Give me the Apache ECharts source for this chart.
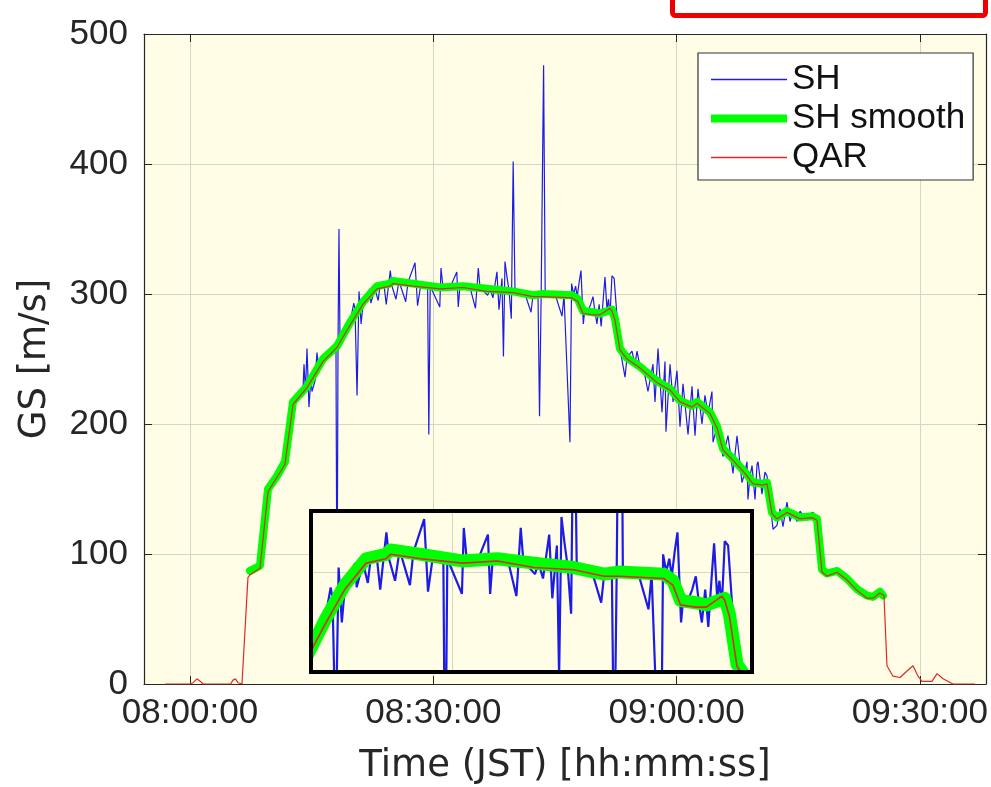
<!DOCTYPE html>
<html>
<head>
<meta charset="utf-8">
<title>GS</title>
<script src="https://cdn.jsdelivr.net/npm/echarts@6/dist/echarts.min.js"></script>
<style>
  html, body { margin: 0; padding: 0; background: #fff; }
  #chart { width: 991px; height: 787px; }
</style>
</head>
<body>
<div id="chart"></div>
<script>
// time = minutes after 08:00:00 JST, GS in m/s
const tickMinutes = [0, 30, 60, 90];
const insetTickMinutes = [30];
const insetTickGs = [300];

// SH (raw, with spikes)
const shTime = [
  7.40, 8.63, 9.12, 9.62, 10.73, 11.71, 12.70, 13.56, 13.93, 14.06,
  14.24, 14.43, 14.67, 14.92, 15.04, 15.41, 15.66, 15.91, 16.40, 17.26,
  18.00, 18.13, 18.25, 18.37, 18.50, 19.11, 19.73, 20.20, 20.35, 20.60,
  20.84, 21.10, 21.33, 21.58, 22.19, 22.30, 22.81, 23.20, 23.43, 23.92,
  24.20, 24.45, 24.70, 24.91, 25.40, 25.77, 26.60, 26.88, 27.75, 28.06,
  28.48, 29.30, 29.45, 29.62, 30.80, 30.95, 31.20, 32.06, 32.90, 33.08,
  33.29, 34.53, 35.20, 35.55, 35.76, 36.70, 36.99, 37.35, 37.85, 38.10,
  38.47, 38.65, 38.84, 39.09, 39.33, 39.62, 39.85, 40.07, 41.31, 42.05,
  42.29, 42.91, 43.10, 43.30, 43.60, 43.80, 45.01, 45.87, 46.12, 46.85,
  47.05, 47.30, 47.55, 47.75, 47.98, 48.21, 48.50, 48.71, 49.06, 49.40,
  49.69, 49.94, 50.18, 50.45, 50.70, 50.95, 51.17, 51.42, 51.60, 51.79,
  52.03, 52.30, 52.60, 53.02, 53.64, 53.88, 54.50, 54.87, 55.12, 55.49,
  56.10, 56.47, 57.09, 57.34, 57.71, 58.20, 58.57, 58.69, 59.19, 59.56,
  60.05, 60.42, 60.79, 61.41, 61.90, 62.27, 62.64, 63.13, 63.50, 63.87,
  64.36, 64.49, 64.99, 65.72, 66.34, 66.95, 67.45, 68.06, 68.43, 68.68,
  68.80, 69.05, 69.30, 69.67, 69.92, 70.04, 70.53, 70.90, 71.15, 71.52,
  71.89, 72.38, 72.75, 73.12, 73.61, 73.98, 74.35, 74.85, 75.22, 75.83,
  76.20, 76.82, 77.31, 77.93, 78.55, 79.78, 81.01, 82.24, 83.48, 84.22,
  85.08, 85.45
];
const shGs = [
  87, 91, 120, 150, 160, 171, 217, 224, 226, 246,
  225, 258, 213, 236, 225, 233, 255, 240, 250, 256,
  259, 40, 258, 350, 262, 270, 278, 293, 288, 222,
  302, 277, 292, 298, 304, 293, 304, 295, 306, 307,
  292, 305, 318, 306, 296, 310, 294, 309, 324, 291,
  308, 306, 192, 306, 290, 320, 305, 305, 317, 290,
  306, 305, 289, 320, 305, 299, 304, 297, 317, 288,
  312, 252, 325, 313, 303, 281, 402, 304, 300, 286,
  299, 300, 206, 300, 476, 300, 300, 283, 299, 186,
  308, 300, 306, 298, 309, 318, 277, 290, 287, 292,
  298, 286, 277, 292, 275, 296, 313, 288, 296, 284,
  314, 312, 287, 258, 236, 251, 256, 246, 256, 244,
  237, 225, 246, 217, 258, 209, 248, 194, 246, 217,
  241, 198, 231, 192, 229, 191, 227, 200, 222, 208,
  225, 186, 198, 175, 191, 162, 191, 155, 163, 171,
  142, 160, 168, 142, 169, 171, 146, 163, 160, 140,
  119, 122, 135, 121, 140, 125, 133, 125, 133, 127,
  130, 132, 127, 88, 85, 87, 81, 73, 68, 67,
  73, 68
];

// SH smooth
const smoothTime = [
  7.40, 8.63, 9.62, 10.73, 11.71, 12.70, 14.43, 16.40, 18.13, 19.73,
  21.33, 23.06, 24.66, 25.03, 27.50, 30.83, 33.66, 36.62, 39.83, 42.29,
  43.53, 47.10, 47.84, 48.46, 49.69, 50.55, 52.03, 52.40, 53.02, 53.88,
  55.49, 57.58, 59.19, 60.42, 61.90, 62.52, 64.12, 64.99, 65.72, 66.95,
  68.43, 69.42, 70.65, 71.15, 71.76, 72.38, 73.61, 75.22, 76.70, 77.31,
  77.93, 78.55, 79.78, 81.01, 82.24, 83.48, 84.22, 85.08, 85.45
];
const smoothGs = [
  87, 91, 150, 160, 171, 217, 229, 250, 260, 278,
  294, 306, 308, 310, 308, 305, 306, 304, 302, 299,
  300, 299, 296, 287, 286, 285, 288, 281, 258, 251,
  244, 233, 227, 218, 214, 217, 209, 198, 181, 173,
  163, 155, 154, 155, 132, 128, 133, 128, 129, 127,
  88, 85, 87, 81, 73, 68, 67, 71, 68
];

// QAR
const qarTime = [
  -3.08, 0.00, 0.40, 0.86, 1.30, 1.60, 5.00, 5.30, 5.60, 5.92,
  6.41, 7.15, 7.40, 8.63, 9.62, 10.73, 11.71, 12.70, 14.43, 16.40,
  18.13, 19.73, 21.33, 23.06, 24.66, 25.03, 27.50, 30.83, 33.66, 36.62,
  39.83, 42.29, 43.53, 47.10, 47.84, 48.46, 49.69, 50.55, 51.80, 52.03,
  52.40, 53.02, 53.88, 55.49, 57.58, 59.19, 60.42, 61.90, 62.52, 64.12,
  64.99, 65.72, 66.95, 68.43, 69.42, 70.65, 71.15, 71.76, 72.38, 73.61,
  75.22, 76.70, 77.31, 77.93, 78.55, 79.78, 81.01, 82.24, 83.48, 84.22,
  85.08, 85.57, 85.94, 86.68, 87.55, 88.41, 89.15, 89.77, 90.26, 91.49,
  92.11, 92.85, 94.08, 96.80
];
const qarGs = [
  0, 0, 1, 4, 2, 0, 0, 3, 4, 1,
  0, 82, 84, 89, 148, 159, 169, 215, 228, 248,
  259, 276, 292, 304, 306, 308, 306, 304, 305, 302,
  301, 298, 298, 297, 294, 285, 284, 284, 289, 287,
  280, 257, 250, 243, 232, 226, 217, 213, 216, 208,
  197, 180, 172, 162, 154, 153, 154, 131, 127, 132,
  127, 128, 126, 86, 83, 86, 80, 72, 66, 66,
  70, 68, 14, 6, 5, 10, 14, 6, 2, 2,
  8, 4, 0, 0
];

const pair = (ts, vs) => ts.map((t, i) => [t, vs[i]]);
const shData = pair(shTime, shGs);
const smoothData = pair(smoothTime, smoothGs);
const qarData = pair(qarTime, qarGs);

function hms(m) {
  const total = Math.round((480 + m) * 60);
  const h = Math.floor(total / 3600);
  const mm = Math.floor((total % 3600) / 60);
  const s = total % 60;
  return [h, mm, s].map(v => String(v).padStart(2, '0')).join(':');
}

const font = '"Liberation Sans", Arial, Helvetica, sans-serif';
const titleFont = '"DejaVu Sans", "Liberation Sans", sans-serif';
const axisColor = '#262626';
const gridColor = '#d6d6c4';
const plotBg = '#fffde6';
const blue = '#1c1ce6';
const green = '#00ff00';
const red = '#e02828';

const xMin = -5.67, xMax = 98.15;

// thick inset lines spill past the inset grid (clip is widened by lineWidth/2); hide that spill
const spill = { fill: plotBg, stroke: null };

const chart = echarts.init(document.getElementById('chart'));
chart.setOption({
  animation: false,
  backgroundColor: '#fff',
  grid: [
    { left: 144, top: 34, width: 842, height: 650, outerBoundsMode: 'none', show: true, backgroundColor: plotBg, borderWidth: 0 },
    { left: 311, top: 511, width: 441, height: 161, outerBoundsMode: 'none', show: true, backgroundColor: plotBg, borderWidth: 0, z: 10 }
  ],
  legend: {
    data: [
      { name: 'SH', lineStyle: { width: 1.5 } },
      { name: 'SH smooth', lineStyle: { width: 8, cap: 'butt' } },
      { name: 'QAR', lineStyle: { width: 1.5 } }
    ],
    orient: 'vertical',
    left: 698,
    top: 53,
    padding: [9, 8, 5, 9],
    itemGap: 4,
    itemWidth: 76,
    itemHeight: 14,
    itemStyle: { opacity: 0 },
    backgroundColor: '#fff',
    borderColor: '#333',
    borderWidth: 1.2,
    borderRadius: 0,
    textStyle: { fontSize: 35, color: '#111', fontFamily: font },
    z: 30
  },
  xAxis: [
    {
      type: 'value', gridIndex: 0, min: xMin, max: xMax,
      axisLine: { onZero: false, lineStyle: { color: axisColor, width: 1.2 } },
      axisTick: { inside: true, length: 8, customValues: tickMinutes, lineStyle: { color: axisColor } },
      axisLabel: { customValues: tickMinutes, formatter: hms, fontSize: 35, color: axisColor, margin: 12, fontFamily: font },
      splitLine: { show: true, lineStyle: { color: gridColor, width: 1 } },
      name: 'Time (JST) [hh:mm:ss]', nameLocation: 'middle', nameGap: 64,
      nameTextStyle: { fontSize: 37, color: axisColor, fontFamily: titleFont }
    },
    {
      type: 'value', gridIndex: 0, position: 'top', min: xMin, max: xMax,
      axisLine: { onZero: false, lineStyle: { color: axisColor, width: 1.2 } },
      axisTick: { inside: true, length: 8, customValues: tickMinutes, lineStyle: { color: axisColor } },
      axisLabel: { show: false },
      splitLine: { show: false }
    },
    {
      type: 'value', gridIndex: 1, min: 18.61, max: 54.23, z: 11,
      axisLine: { show: false },
      axisTick: { show: false, customValues: insetTickMinutes },
      axisLabel: { show: false },
      splitLine: { show: true, lineStyle: { color: gridColor, width: 1 } }
    }
  ],
  yAxis: [
    {
      type: 'value', gridIndex: 0, min: 0, max: 500, interval: 100,
      axisLine: { show: true, onZero: false, lineStyle: { color: axisColor, width: 1.2 } },
      axisTick: { show: true, inside: true, length: 8, lineStyle: { color: axisColor } },
      axisLabel: { fontSize: 35, color: axisColor, margin: 16, fontFamily: font },
      splitLine: { show: true, lineStyle: { color: gridColor, width: 1 } },
      name: 'GS [m/s]', nameLocation: 'middle', nameGap: 90,
      nameTextStyle: { fontSize: 37, color: axisColor, fontFamily: titleFont }
    },
    {
      type: 'value', gridIndex: 0, position: 'right', min: 0, max: 500, interval: 100,
      axisLine: { show: true, onZero: false, lineStyle: { color: axisColor, width: 1.2 } },
      axisTick: { show: true, inside: true, length: 8, lineStyle: { color: axisColor } },
      axisLabel: { show: false },
      splitLine: { show: false }
    },
    {
      type: 'value', gridIndex: 1, min: 254.5, max: 327.7, z: 11,
      axisLine: { show: false },
      axisTick: { show: false, customValues: insetTickGs },
      axisLabel: { show: false },
      splitLine: { show: true, lineStyle: { color: gridColor, width: 1 } }
    }
  ],
  series: [
    {
      name: 'SH', type: 'line', xAxisIndex: 0, yAxisIndex: 0, data: shData,
      symbol: 'none', showSymbol: false, z: 2,
      lineStyle: { color: blue, width: 1.2 }, itemStyle: { color: blue }
    },
    {
      name: 'SH smooth', type: 'line', xAxisIndex: 0, yAxisIndex: 0, data: smoothData,
      symbol: 'none', showSymbol: false, z: 3,
      lineStyle: { color: green, width: 8, join: 'round', cap: 'round' }, itemStyle: { color: green }
    },
    {
      name: 'QAR', type: 'line', xAxisIndex: 0, yAxisIndex: 0, data: qarData,
      symbol: 'none', showSymbol: false, z: 4,
      lineStyle: { color: red, width: 1.2 }, itemStyle: { color: red }
    },
    {
      name: 'SH', type: 'line', xAxisIndex: 2, yAxisIndex: 2, data: shData,
      symbol: 'none', showSymbol: false, z: 12,
      lineStyle: { color: blue, width: 2.2 }, itemStyle: { color: blue }
    },
    {
      name: 'SH smooth', type: 'line', xAxisIndex: 2, yAxisIndex: 2, data: smoothData,
      symbol: 'none', showSymbol: false, z: 13,
      lineStyle: { color: green, width: 13, join: 'round', cap: 'round' }, itemStyle: { color: green }
    },
    {
      name: 'QAR', type: 'line', xAxisIndex: 2, yAxisIndex: 2, data: qarData,
      symbol: 'none', showSymbol: false, z: 14,
      lineStyle: { color: red, width: 1.6 }, itemStyle: { color: red }
    }
  ],
  graphic: [
    { type: 'rect', z: 19, silent: true, shape: { x: 302, y: 605, width: 7.5, height: 76 }, style: spill },
    { type: 'rect', z: 19, silent: true, shape: { x: 302, y: 673.5, width: 43, height: 7 }, style: spill },
    { type: 'rect', z: 19, silent: true, shape: { x: 715, y: 673.5, width: 50, height: 7 }, style: spill },
    { type: 'rect', z: 19, silent: true, shape: { x: 753.5, y: 630, width: 8, height: 51 }, style: spill },
    {
      type: 'rect', z: 20, silent: true,
      shape: { x: 311, y: 511, width: 441, height: 161 },
      style: { fill: 'none', stroke: '#000', lineWidth: 4 }
    },
    {
      type: 'rect', z: 40, silent: true,
      shape: { x: 672.5, y: -10, width: 313, height: 25.5, r: 3 },
      style: { fill: '#fff', stroke: '#ee0000', lineWidth: 5 }
    }
  ]
});
</script>
</body>
</html>
